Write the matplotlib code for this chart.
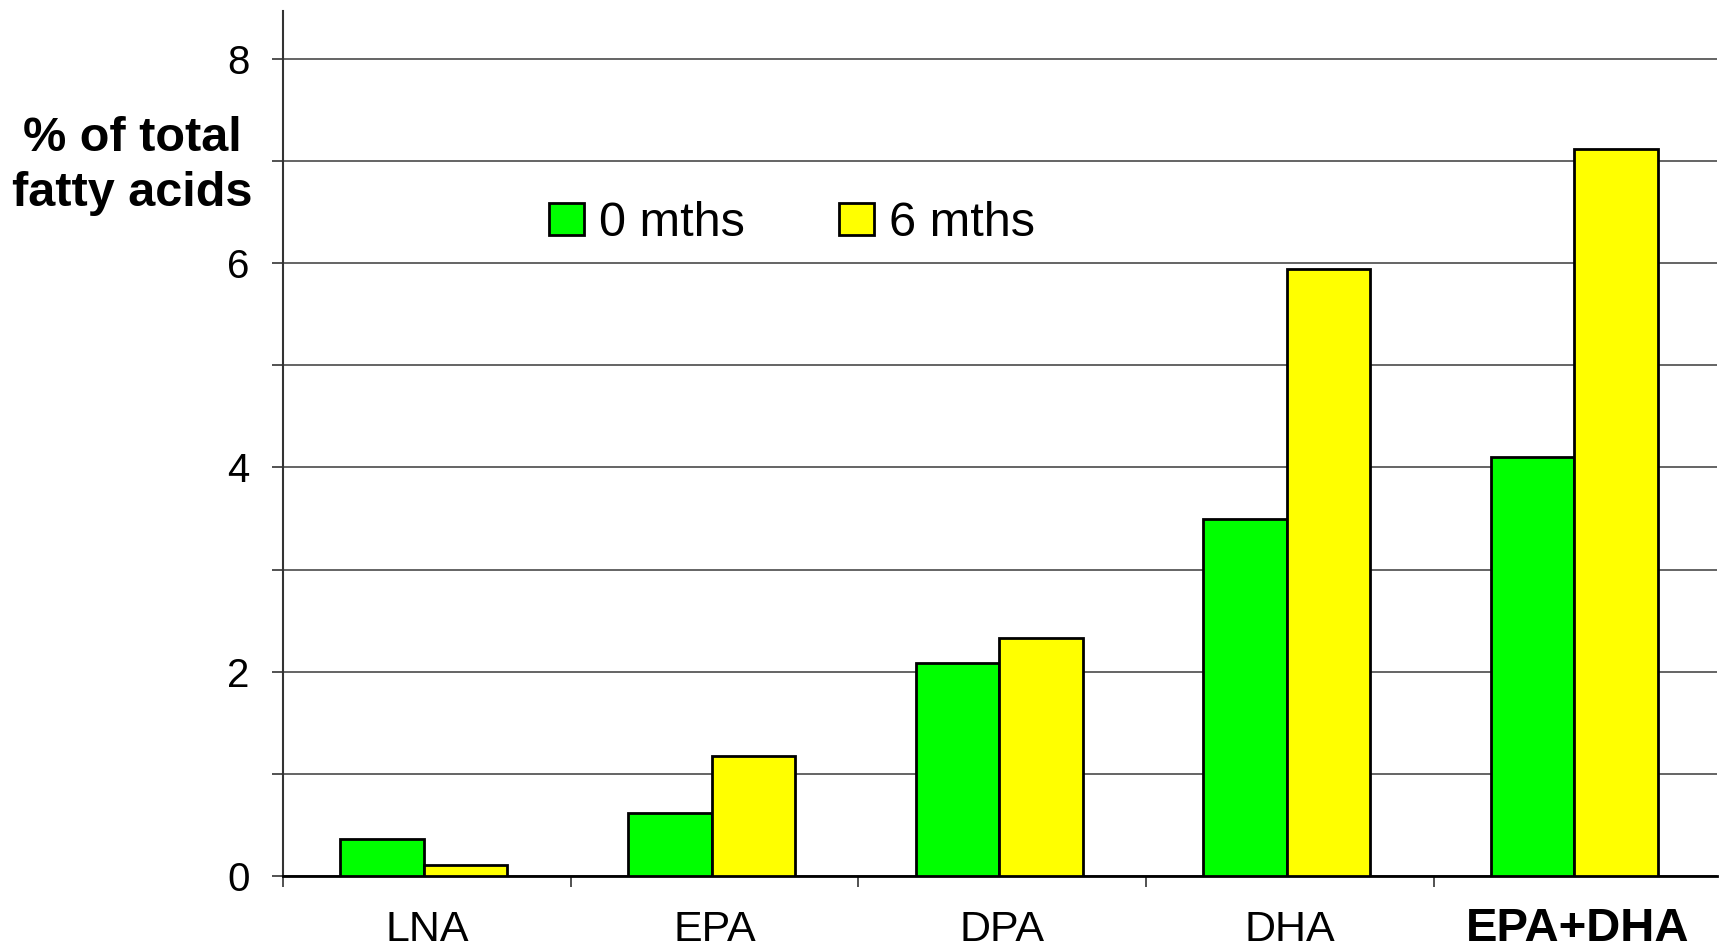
import matplotlib.pyplot as plt
import matplotlib.transforms as mtransforms
import numpy as np
from matplotlib.patches import Patch

plt.rcParams['font.family'] = ['Liberation Sans', 'DejaVu Sans']

# data
categories = ["LNA", "EPA", "DPA", "DHA", "EPA+DHA"]
series_names = ["0 mths", "6 mths"]
values_0m = [0.36, 0.62, 2.09, 3.50, 4.10]
values_6m = [0.11, 1.17, 2.33, 5.94, 7.12]
colors = ["#00ff00", "#ffff00"]
y_labels = [0, 2, 4, 6, 8]


def draw_chart():
    fig = plt.figure(figsize=(17.21, 9.51), dpi=100)
    ax = fig.add_axes([0.1644, 0.0789, 0.8332, 0.9095])

    x = np.arange(len(categories)) + 0.49
    w = 0.29
    ax.bar(x - w / 2, values_0m, w, color=colors[0], edgecolor="black", linewidth=2, zorder=3)
    ax.bar(x + w / 2, values_6m, w, color=colors[1], edgecolor="black", linewidth=2, zorder=3)

    ax.set_xlim(0, 4.985)
    ax.set_ylim(0, 8.47)

    # grid every 1, labels on even values
    ax.set_yticks(y_labels)
    ax.set_yticklabels([str(v) for v in y_labels])
    ax.set_yticks([1, 3, 5, 7], minor=True)
    ax.yaxis.grid(True, which="both", color="#4a4a4a", linewidth=1.2, zorder=0)
    ax.tick_params(axis="y", which="both", direction="out", length=8, width=1.2,
                   color="#333333", labelsize=29, pad=16)

    # category separators as ticks, names as text under each group
    ax.set_xticks(np.arange(len(categories)))
    ax.set_xticklabels([])
    ax.tick_params(axis="x", which="major", direction="out", length=8, width=1.2, color="#333333")
    trans = mtransforms.blended_transform_factory(ax.transData, ax.transAxes)
    for i, cat in enumerate(categories):
        bold = cat == categories[-1]
        ax.text(i + 0.5, -0.0751, cat, transform=trans, ha="center", va="baseline",
                fontsize=34 if bold else 31, fontweight="bold" if bold else "normal")

    for s in ["top", "right"]:
        ax.spines[s].set_visible(False)
    ax.spines["left"].set_color("#333333")
    ax.spines["left"].set_linewidth(1.5)
    ax.spines["bottom"].set_color("black")
    ax.spines["bottom"].set_linewidth(2)

    fig.text(0.0767, 0.8255, "% of total\nfatty acids", ha="center", va="center",
             fontsize=35, fontweight="bold", linespacing=1.3)

    handles = [Patch(facecolor=c, edgecolor="black", linewidth=2) for c in colors]
    fig.legend(handles, series_names, loc="center left", bbox_to_anchor=(0.319, 0.765),
               ncol=2, frameon=False, fontsize=35, handlelength=0.72, handleheight=0.62,
               handletextpad=0.3, columnspacing=1.95, borderpad=0, borderaxespad=0)

    fig.savefig("out.png", dpi=100)


if __name__ == "__main__":
    draw_chart()
